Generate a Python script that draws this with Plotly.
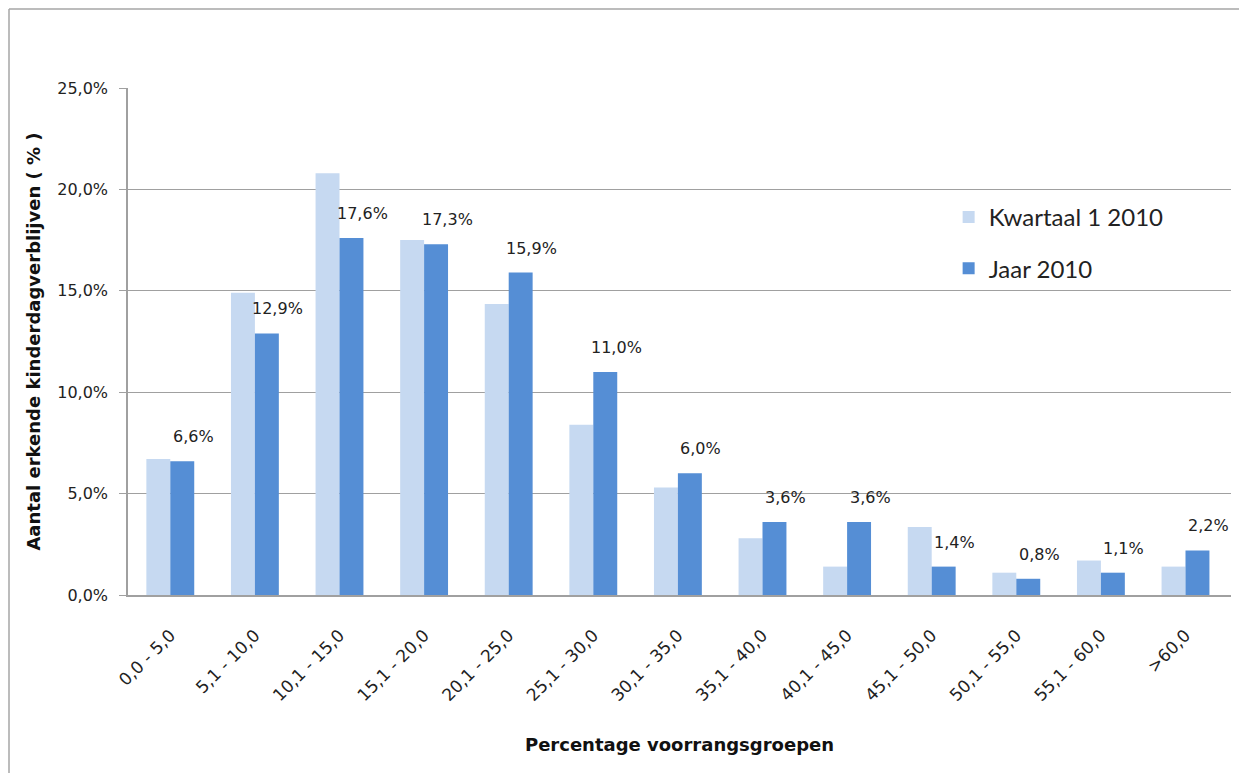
import plotly.graph_objects as go

categories = ["0,0 - 5,0", "5,1 - 10,0", "10,1 - 15,0", "15,1 - 20,0", "20,1 - 25,0",
              "25,1 - 30,0", "30,1 - 35,0", "35,1 - 40,0", "40,1 - 45,0", "45,1 - 50,0",
              "50,1 - 55,0", "55,1 - 60,0", ">60,0"]
kwartaal1_2010 = [6.7, 14.9, 20.8, 17.5, 14.35, 8.4, 5.3, 2.8, 1.4, 3.35, 1.1, 1.7, 1.4]
jaar_2010 = [6.6, 12.9, 17.6, 17.3, 15.9, 11.0, 6.0, 3.6, 3.6, 1.4, 0.8, 1.1, 2.2]
y_ticks = [0, 5, 10, 15, 20, 25]


def pct(v):
    return f"{v:.1f}".replace(".", ",") + "%"


W, H = 1239, 773
L, R, T, B = 128, 8, 88, 178
pw = W - L - R
ph = H - T - B

NUM_FONT = "DejaVu Sans, Verdana, sans-serif"
LEG_FONT = "Lato, Noto Sans, sans-serif"

fig = go.Figure()
fig.add_trace(go.Bar(x=categories, y=kwartaal1_2010, name="Kwartaal 1 2010",
                     marker=dict(color="#c6d9f1", line=dict(width=0)),
                     legendgroup="a"))
fig.add_trace(go.Bar(x=categories, y=jaar_2010, name="Jaar 2010",
                     marker=dict(color="#558ed5", line=dict(width=0)),
                     legendgroup="b"))

for c, v in zip(categories, jaar_2010):
    fig.add_annotation(x=c, y=v, xref="x", yref="y", text=pct(v),
                       showarrow=False, xanchor="center", yanchor="bottom",
                       xshift=23, yshift=13,
                       font=dict(family=NUM_FONT, size=16, color="#222222"))

# outer chart border (only the left and top edges are visible in the frame)
bx0 = (9 - L) / pw
bx1 = (W - L) / pw
by1 = (T + ph - 9) / ph
by0 = -(H - T - ph) / ph
border = dict(color="#a6a6a6", width=1.5)
fig.add_shape(type="line", xref="paper", yref="paper", x0=bx0, x1=bx1, y0=by1, y1=by1,
              line=border, layer="below")
fig.add_shape(type="line", xref="paper", yref="paper", x0=bx0, x1=bx0, y0=by0, y1=by1,
              line=border, layer="below")

fig.update_layout(
    width=W, height=H,
    margin=dict(l=L, r=R, t=T, b=B, autoexpand=False),
    paper_bgcolor="white", plot_bgcolor="white",
    barmode="group", bargap=0.434, bargroupgap=0.0,
    separators=",.",
    font=dict(family=NUM_FONT, color="#222222"),
    legend=dict(x=0.744, y=0.789, xanchor="left", yanchor="top",
                font=dict(family=LEG_FONT, size=24, color="#222222"),
                bgcolor="rgba(0,0,0,0)", tracegroupgap=17,
                itemsizing="constant"),
    showlegend=True,
)
fig.update_xaxes(
    type="category", automargin=False, showgrid=False,
    showline=True, linecolor="#a0a0a0", linewidth=1.5,
    ticks="", tickangle=-45, ticklabelstandoff=22,
    tickfont=dict(family=NUM_FONT, size=17, color="#222222"),
    title=dict(text="<b>Percentage voorrangsgroepen</b>",
               font=dict(family=NUM_FONT, size=18, color="#111111"), standoff=34),
)
fig.update_yaxes(
    range=[0, 25], tickmode="array", tickvals=y_ticks,
    ticktext=[pct(v) for v in y_ticks], automargin=False,
    showgrid=True, gridcolor="#a0a0a0", gridwidth=1,
    showline=True, linecolor="#a0a0a0", linewidth=1.5,
    ticks="outside", ticklen=7, tickcolor="#a0a0a0", ticklabelstandoff=8,
    tickfont=dict(family=NUM_FONT, size=16, color="#222222"),
    zeroline=False,
    title=dict(text="<b>Aantal erkende kinderdagverblijven ( % )</b>",
               font=dict(family=NUM_FONT, size=18, color="#111111"), standoff=12),
)

fig.write_html(
    "out.html",
    config={"displayModeBar": False},
    post_script="document.body.style.margin='0';document.documentElement.style.overflow='hidden';",
)
